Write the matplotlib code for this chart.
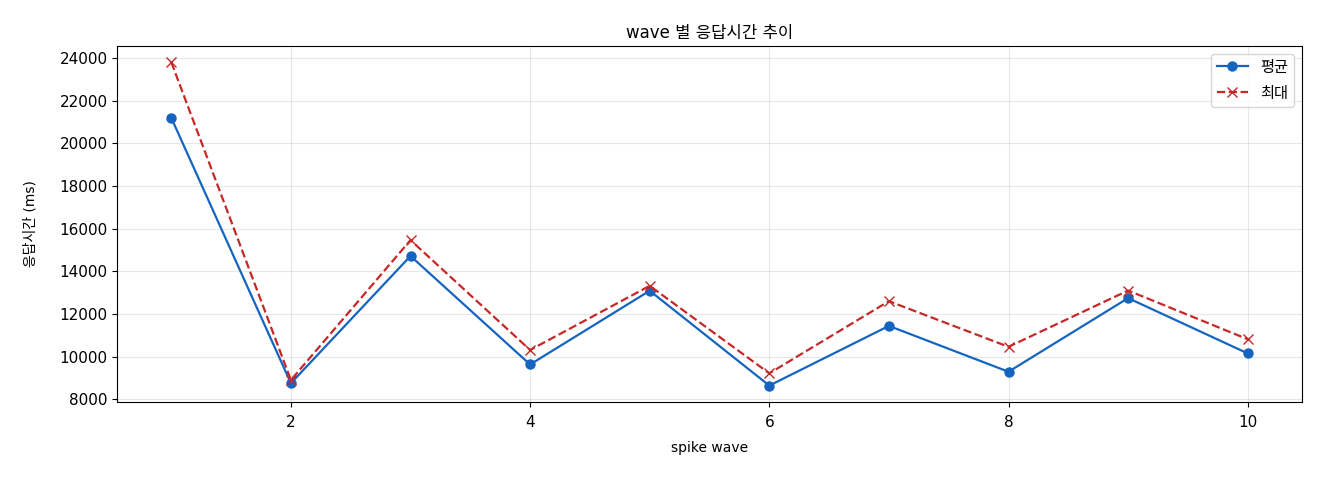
import matplotlib
matplotlib.use('Agg')
import matplotlib.pyplot as plt

plt.rcParams['font.family'] = ['DejaVu Sans', 'Noto Sans CJK KR']
plt.rcParams['axes.unicode_minus'] = False

waves = [1, 2, 3, 4, 5, 6, 7, 8, 9, 10]
avg_ms = [21200, 8750, 14720, 9630, 13090, 8640, 11440, 9290, 12745, 10150]
max_ms = [23810, 8900, 15465, 10310, 13320, 9215, 12600, 10460, 13100, 10815]

fig, ax = plt.subplots(figsize=(13.2, 4.8), dpi=100)
ax.plot(waves, avg_ms, marker='o', color='#1565C0', label='평균', markersize=6.5, linewidth=1.6)
ax.plot(waves, max_ms, marker='x', linestyle='--', color='#C62828', label='최대', markersize=7, linewidth=1.6)

ax.set_title('wave 별 응답시간 추이', fontsize=12)
ax.set_xlabel('spike wave', fontsize=10, labelpad=8)
ax.set_ylabel('응답시간 (ms)', fontsize=10, labelpad=16)
ax.tick_params(labelsize=11)
ax.tick_params(axis='x', pad=6)
ax.grid(True, alpha=0.3)
ax.legend(loc='upper right', fontsize=11, labelspacing=0.7)

fig.subplots_adjust(left=0.089, right=0.986, top=0.904, bottom=0.163)
plt.savefig('out.png', dpi=100)
